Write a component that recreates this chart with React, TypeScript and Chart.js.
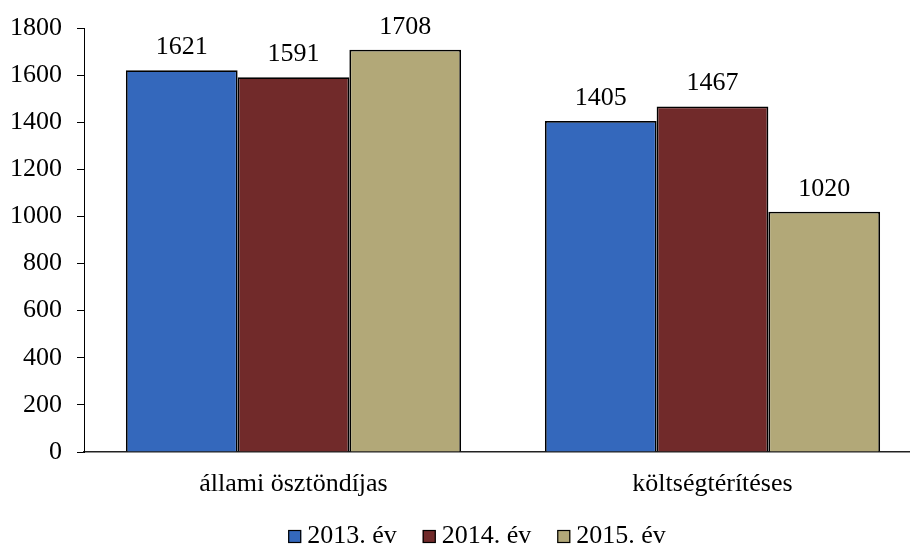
import React, { useEffect, useRef } from "react";
import { Chart, registerables } from "chart.js";

Chart.register(...registerables);

const categories = ["állami ösztöndíjas", "költségtérítéses"];
const seriesLabels = ["2013. év", "2014. év", "2015. év"];
const values2013 = [1621, 1405];
const values2014 = [1591, 1467];
const values2015 = [1708, 1020];
const seriesColors = ["#3468BC", "#712A2A", "#B2A878"];
const yMin = 0;
const yMax = 1800;
const yStep = 200;

const FONT = "'Liberation Serif', 'Times New Roman', serif";
const FONT_SIZE = 26;

const dataLabelPlugin = {
  id: "dataLabels",
  afterDatasetsDraw(chart: any) {
    const ctx = chart.ctx;
    ctx.save();
    ctx.font = `${FONT_SIZE}px ${FONT}`;
    ctx.fillStyle = "#000";
    ctx.textAlign = "center";
    ctx.textBaseline = "alphabetic";
    chart.data.datasets.forEach((ds: any, di: number) => {
      const meta = chart.getDatasetMeta(di);
      meta.data.forEach((el: any, i: number) => {
        ctx.fillText(String(ds.data[i]), el.x, el.y - 16);
      });
    });
    ctx.restore();
  },
};

const legendPlugin = {
  id: "customLegend",
  afterDraw(chart: any) {
    const ctx = chart.ctx;
    ctx.save();
    ctx.font = `${FONT_SIZE}px ${FONT}`;
    const box = 13;
    const gap = 6;
    const itemGap = 26;
    const items = chart.data.datasets.map((ds: any) => ({
      label: ds.label,
      color: ds.backgroundColor,
      w: ctx.measureText(ds.label).width,
    }));
    const total =
      items.reduce((s: number, it: any) => s + box + gap + it.w, 0) +
      itemGap * (items.length - 1);
    let x = chart.width / 2 - total / 2;
    const baseline = 543;
    items.forEach((it: any) => {
      ctx.fillStyle = it.color;
      ctx.fillRect(x, baseline - 13, box, box);
      ctx.strokeStyle = "#000";
      ctx.lineWidth = 1.2;
      ctx.strokeRect(x + 0.5, baseline - 12.5, box - 1, box - 1);
      ctx.fillStyle = "#000";
      ctx.textAlign = "left";
      ctx.textBaseline = "alphabetic";
      ctx.fillText(it.label, x + box + gap, baseline);
      x += box + gap + it.w + itemGap;
    });
    ctx.restore();
  },
};

export default function App() {
  const ref = useRef<HTMLCanvasElement | null>(null);
  useEffect(() => {
    if (!ref.current) return;
    const chart = new Chart(ref.current, {
      type: "bar",
      data: {
        labels: categories,
        datasets: [values2013, values2014, values2015].map((vals, i) => ({
          label: seriesLabels[i],
          data: vals,
          backgroundColor: seriesColors[i],
          borderColor: "#000",
          borderWidth: 1.8,
          categoryPercentage: 0.8,
          barPercentage: 1.0,
        })),
      },
      options: {
        responsive: false,
        animation: false,
        devicePixelRatio: 1,
        layout: { padding: { top: 28, right: 32, bottom: 0, left: 0 } },
        plugins: {
          legend: { display: false },
          tooltip: { enabled: false },
        },
        scales: {
          x: {
            grid: { display: false },
            border: { display: true, color: "#222", width: 1.5 },
            ticks: {
              color: "#000",
              font: { family: FONT, size: FONT_SIZE },
              padding: 9,
            },
            afterFit: (s: any) => {
              s.height = 94;
              s.paddingLeft = 0;
              s.paddingRight = 0;
            },
          },
          y: {
            min: yMin,
            max: yMax,
            grid: {
              drawOnChartArea: false,
              drawTicks: true,
              tickLength: 7,
              color: "#000",
              lineWidth: 1,
            },
            border: { display: true, color: "#000", width: 1 },
            ticks: {
              stepSize: yStep,
              color: "#000",
              font: { family: FONT, size: FONT_SIZE },
              padding: 15,
              callback: (v: any) => String(v),
            },
            afterFit: (s: any) => {
              s.width = 84;
              s.paddingTop = 0;
              s.paddingBottom = 0;
            },
          },
        },
      },
      plugins: [dataLabelPlugin, legendPlugin],
    });
    return () => chart.destroy();
  }, []);
  return (
    <div
      style={{
        position: "absolute",
        left: 0,
        top: 0,
        width: 910,
        height: 546,
        overflow: "hidden",
        background: "#fff",
      }}
    >
      <canvas ref={ref} width={954} height={546} style={{ width: 954, height: 546 }} />
    </div>
  );
}
